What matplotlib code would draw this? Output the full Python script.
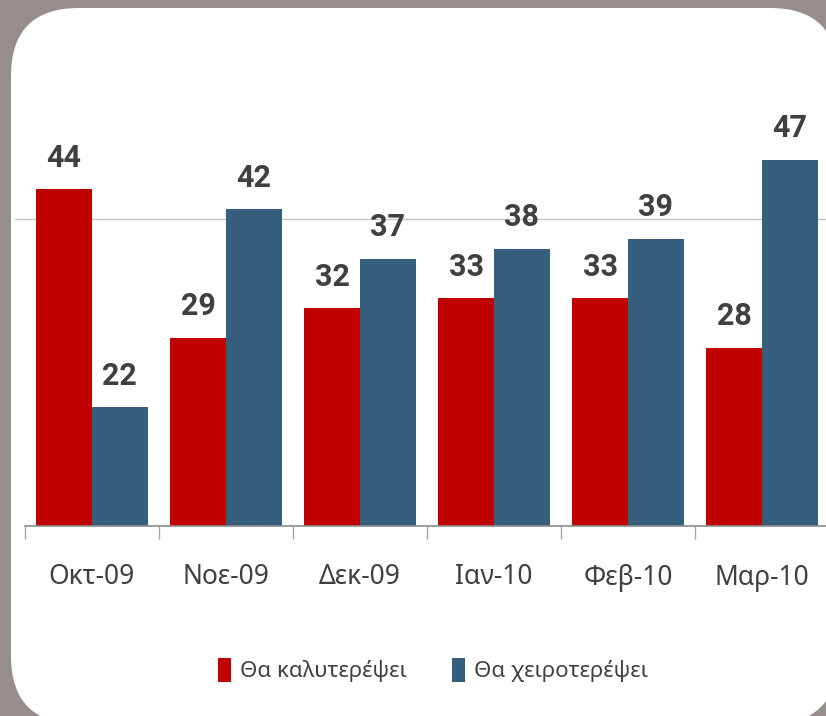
import matplotlib.pyplot as plt
from matplotlib.patches import FancyBboxPatch, Patch

# Greek opinion poll: will things get better or worse
months = ["Οκτ-09", "Νοε-09", "Δεκ-09", "Ιαν-10", "Φεβ-10", "Μαρ-10"]
better = [44, 29, 32, 33, 33, 28]
worse = [22, 42, 37, 38, 39, 47]
series_names = ["Θα καλυτερέψει", "Θα χειροτερέψει"]

red = "#c00000"
blue = "#365e7d"
text_col = "#404040"
font = ["Noto Sans", "DejaVu Sans"]
num_font = ["Roboto", "DejaVu Sans"]

W, H = 826, 716
fig = plt.figure(figsize=(W / 100, H / 100), dpi=100)
fig.patch.set_facecolor("#978d8c")

# white rounded panel (pixel units converted to inches)
panel = FancyBboxPatch(
    (11 / 100, (H - 724) / 100), (838 - 11) / 100, (724 - 8) / 100,
    boxstyle="round,pad=0,rounding_size=0.68",
    transform=fig.dpi_scale_trans, facecolor="white", edgecolor="none", zorder=-5,
)
fig.patches.append(panel)

ax = fig.add_axes([25 / W, 1 - 526 / H, 804 / W, 396 / H])
ax.set_zorder(2)
ax.set_facecolor("none")

x = list(range(len(months)))
w = 0.415
ax.bar([i - w / 2 for i in x], better, width=w, color=red, zorder=2)
ax.bar([i + w / 2 for i in x], worse, width=w, color=blue, zorder=2)

for i in x:
    for xx, v in ((i - w / 2, better[i]), (i + w / 2, worse[i])):
        ax.annotate(str(v), (xx, v), xytext=(0, 12), textcoords="offset points",
                    ha="center", va="bottom", fontsize=22, fontweight="bold",
                    color=text_col, family=num_font, annotation_clip=False)

ax.set_xlim(-0.5, len(months) - 0.5)
ax.set_ylim(10, 50)
ax.axhline(41, xmin=-0.0125, color="#c8c8c8", lw=1, zorder=1, clip_on=False)

ax.set_yticks([])
ax.set_xticks(x)
ax.set_xticklabels(months, fontsize=19, color=text_col, family=font)
ax.tick_params(axis="x", which="major", length=0, pad=27)
ax.set_xticks([i - 0.5 for i in range(len(months) + 1)], minor=True)
ax.tick_params(axis="x", which="minor", length=9, width=1, color="#a6a6a6", direction="out")

for s in ("left", "right", "top"):
    ax.spines[s].set_visible(False)
ax.spines["bottom"].set_color("#8c8c8c")
ax.spines["bottom"].set_linewidth(1.2)

handles = [Patch(facecolor=red, edgecolor="none"), Patch(facecolor=blue, edgecolor="none")]
fig.legend(handles, series_names, loc="center", bbox_to_anchor=(433 / W, 1 - 670 / H),
           ncol=2, frameon=False, handlelength=0.6, handleheight=1.3,
           handletextpad=0.4, columnspacing=2.0,
           prop={"family": font, "size": 16}, labelcolor=text_col)

fig.savefig("out.png", dpi=100, facecolor=fig.get_facecolor())
